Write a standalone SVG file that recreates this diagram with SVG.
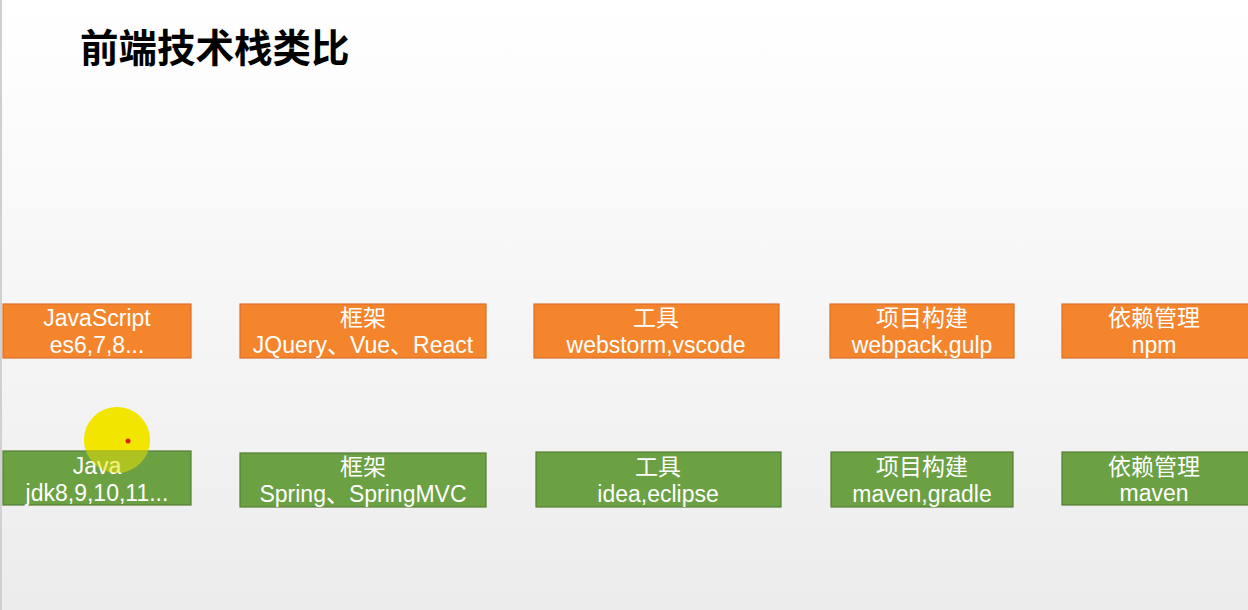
<svg xmlns="http://www.w3.org/2000/svg" width="1248" height="610" viewBox="0 0 1248 610">
<defs>
<linearGradient id="bg" x1="0" y1="0" x2="0" y2="1">
<stop offset="0" stop-color="#ffffff"/>
<stop offset="0.5" stop-color="#f6f6f6"/>
<stop offset="1" stop-color="#ececec"/>
</linearGradient>
</defs>
<style>
.o{fill:#f5852c;stroke:#d9702a;stroke-width:1.2}
.g{fill:#6ba043;stroke:#547f35;stroke-width:1.2}
.t{fill:#ffffff;font-family:"Liberation Sans","Noto Sans CJK SC",sans-serif;font-size:23px;text-anchor:middle}
.h{fill:#000000;font-family:"Noto Sans CJK SC",sans-serif;font-size:38.5px;font-weight:bold}
</style>
<rect width="1248" height="610" fill="url(#bg)"/>
<rect x="0" y="0" width="2" height="610" fill="#d0d0d0"/>
<text class="h" x="80" y="62">前端技术栈类比</text>
<g id="connectors"/>
<circle cx="117" cy="440" r="33" fill="#f2e600"/>
<g id="js"><rect class="o" x="3" y="304" width="188" height="54"/><text class="t" x="97" y="326">JavaScript</text><text class="t" x="97" y="353">es6,7,8...</text></g>
<g id="fe-framework"><rect class="o" x="240" y="304" width="246" height="54"/><text class="t" x="363" y="326">框架</text><text class="t" x="363" y="353">JQuery、Vue、React</text></g>
<g id="fe-tools"><rect class="o" x="534" y="304" width="245" height="54"/><text class="t" x="656" y="326">工具</text><text class="t" x="656" y="353">webstorm,vscode</text></g>
<g id="fe-build"><rect class="o" x="830" y="304" width="184" height="54"/><text class="t" x="922" y="326">项目构建</text><text class="t" x="922" y="353">webpack,gulp</text></g>
<g id="fe-deps"><rect class="o" x="1062" y="304" width="188" height="54"/><text class="t" x="1154" y="326">依赖管理</text><text class="t" x="1154" y="353">npm</text></g>
<g id="java"><rect class="g" x="3" y="451" width="188" height="54"/><text class="t" x="97" y="474">Java</text><text class="t" x="97" y="501">jdk8,9,10,11...</text></g>
<g id="be-framework"><rect class="g" x="240" y="453" width="246" height="54"/><text class="t" x="363" y="475">框架</text><text class="t" x="363" y="502">Spring、SpringMVC</text></g>
<g id="be-tools"><rect class="g" x="536" y="452" width="245" height="55"/><text class="t" x="658" y="475">工具</text><text class="t" x="658" y="502">idea,eclipse</text></g>
<g id="be-build"><rect class="g" x="831" y="452" width="182" height="55"/><text class="t" x="922" y="475">项目构建</text><text class="t" x="922" y="502">maven,gradle</text></g>
<g id="be-deps"><rect class="g" x="1062" y="452" width="188" height="53"/><text class="t" x="1154" y="475">依赖管理</text><text class="t" x="1154" y="501">maven</text></g>
<circle cx="117" cy="440" r="33" fill="#f2e600" opacity="0.5"/>
<circle cx="128" cy="441" r="2.5" fill="#e02010"/>
</svg>
